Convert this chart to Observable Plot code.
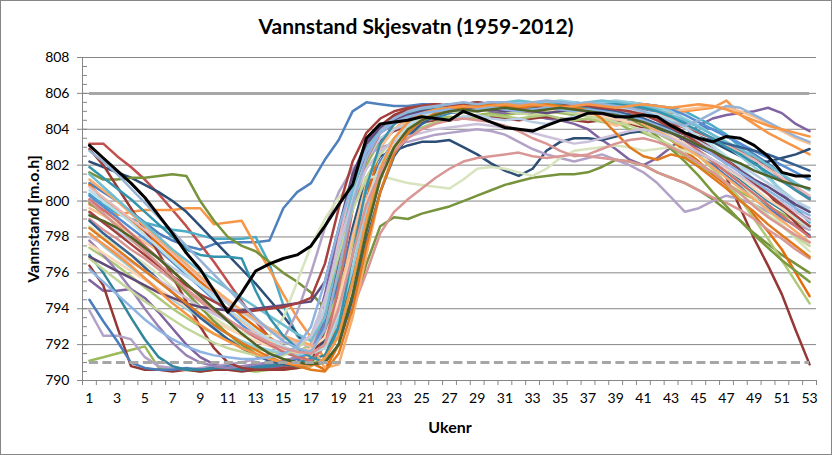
<!DOCTYPE html>
<html>
<head>
<meta charset="utf-8">
<script src="https://cdn.jsdelivr.net/npm/d3@7"></script>
<script src="https://cdn.jsdelivr.net/npm/@observablehq/plot@0.6"></script>
<style>
  html, body { margin: 0; padding: 0; background: #fff; }
  #wrap { position: relative; width: 832px; height: 455px; font-family: Lato, "Open Sans", sans-serif; overflow: hidden; }
  #border { position: absolute; left: 0; top: 0; width: 832px; height: 455px; box-sizing: border-box; border: 1px solid #868686; pointer-events: none; }
  #title { position: absolute; left: 0; top: 13px; width: 832px; text-align: center; font-weight: bold; font-size: 21px; color: #000; }
  #ytitle { position: absolute; left: 32px; top: 219px; transform: translate(-50%, -50%) rotate(-90deg); white-space: nowrap; font-weight: bold; font-size: 16px; color: #000; }
  #xtitle { position: absolute; left: 450px; top: 417px; transform: translateX(-50%); font-weight: bold; font-size: 16px; color: #000; }
  #chart { position: absolute; left: 0; top: 45px; }
</style>
</head>
<body>
<div id="wrap">
  <div id="title">Vannstand Skjesvatn (1959-2012)</div>
  <div id="chart"></div>
  <div id="ytitle">Vannstand [m.o.h]</div>
  <div id="xtitle">Ukenr</div>
  <div id="border"></div>
</div>
<script>
// ---- Categories / ticks ----
const weeks = d3.range(1, 54);                 // Ukenr 1..53
const weekLabels = weeks.filter(w => w % 2 === 1);
const yMajor = [790, 792, 794, 796, 798, 800, 802, 804, 806, 808];
const yMinor = d3.range(790, 808.01, 0.5);
const fullLevel = 806;   // HRV
const lowLevel = 791;    // LRV

// ---- Series (weekly water level, m.o.h) ----
const s01 = [801.0,800.5,800.0,799.4,798.8,798.2,797.8,797.5,797.3,797.6,
  797.7,797.7,797.7,797.8,799.6,800.5,801.0,802.3,803.4,805.0,
  805.5,805.4,805.3,805.3,805.4,805.4,805.3,805.4,805.3,805.4,
  805.4,805.3,805.3,805.2,805.3,805.2,805.3,805.4,805.3,805.2,
  805.1,805.0,804.7,804.4,804.2,804.0,803.6,803.2,802.6,802.1,
  801.5,800.8,800.2];
const s02 = [803.2,803.2,802.5,801.9,801.2,800.4,799.5,798.6,797.6,796.6,
  795.5,794.4,793.3,792.4,791.8,791.4,791.5,793.0,796.5,800.2,
  802.8,804.0,804.6,805.0,805.2,805.3,805.3,805.2,805.4,805.3,
  805.2,805.3,805.3,805.2,805.3,805.2,805.1,805.0,804.8,804.9,
  804.8,804.6,804.3,804.1,803.8,803.5,803.2,802.8,802.4,801.9,
  801.2,800.6,800.1];
const s03 = [791.1,791.3,791.5,791.7,791.9,790.7,790.6,790.6,790.5,790.6,
  790.6,790.6,790.5,790.6,790.6,790.7,790.8,792.5,796.0,799.5,
  802.0,803.4,804.0,804.3,804.5,804.6,804.7,804.6,804.8,804.9,
  804.8,804.9,804.9,805.0,804.9,804.8,804.9,804.7,804.4,804.0,
  803.8,803.5,803.0,802.5,802.0,801.5,801.0,800.5,800.1,799.7,
  799.3,798.9,798.5];
const s04 = [795.6,795.0,795.0,795.1,794.6,793.8,792.9,792.0,791.3,790.9,
  790.7,790.6,790.6,790.7,790.8,791.0,792.0,794.8,798.2,801.4,
  803.3,804.2,804.7,804.9,805.0,805.1,805.0,805.2,805.1,805.0,
  804.9,805.0,804.8,804.6,804.5,804.3,804.0,803.4,802.9,802.3,
  802.0,802.4,803.0,803.6,804.2,804.6,804.8,804.9,805.0,805.2,
  804.9,804.3,803.9];
const s05 = [800.4,799.8,799.3,799.0,798.8,798.6,798.4,798.3,798.1,797.9,
  797.9,797.9,798.0,796.5,794.2,792.5,791.6,791.8,794.0,797.0,
  799.8,801.8,803.0,803.8,804.3,804.6,804.9,805.0,805.2,805.1,
  805.2,805.3,805.2,805.3,805.4,805.3,805.4,805.5,805.4,805.3,
  805.4,805.3,805.2,805.0,804.6,804.2,803.7,803.0,802.2,801.4,
  800.5,799.6,798.8];
const s06 = [799.8,799.5,799.2,799.4,799.5,799.5,799.5,799.6,799.6,798.7,
  798.8,798.9,797.5,796.2,794.8,793.5,792.4,791.2,793.5,797.5,
  801.0,803.0,804.0,804.6,804.9,805.1,805.0,805.2,805.3,805.2,
  805.3,805.2,805.3,805.2,805.4,805.3,805.2,805.3,805.2,805.1,
  805.2,805.0,804.9,805.0,805.1,805.2,805.6,804.8,804.3,803.8,
  803.4,803.0,802.6];
const s07 = [802.2,801.9,801.6,801.3,800.9,800.5,800.0,799.4,798.6,797.8,
  797.0,796.2,795.4,794.5,793.6,792.6,791.6,792.2,795.0,798.5,
  801.3,802.5,802.8,803.1,803.3,803.3,803.4,803.0,802.6,802.1,
  801.7,801.4,801.8,802.8,803.3,803.5,803.5,803.4,803.6,803.8,
  803.9,804.0,803.9,803.8,803.6,803.3,802.9,802.5,802.1,802.2,
  802.4,802.6,802.9];
const s08 = [796.4,795.3,793.0,790.8,790.6,790.6,790.5,790.6,790.5,790.6,
  790.6,790.5,790.6,790.6,790.6,790.7,790.9,793.5,797.5,800.8,
  802.5,803.4,803.9,804.2,804.4,804.5,804.5,804.6,804.6,804.7,
  804.6,804.5,804.6,804.7,804.6,804.5,804.4,804.5,804.4,804.3,
  804.1,803.8,803.4,803.0,802.6,802.1,801.3,799.6,797.9,796.4,
  794.8,792.8,790.9];
const s09 = [801.6,801.2,801.2,801.3,801.3,801.4,801.5,801.4,800.0,798.9,
  798.0,797.5,797.2,796.6,796.0,795.5,794.9,794.0,793.0,793.8,
  796.5,798.6,799.1,799.0,799.3,799.5,799.7,800.0,800.3,800.6,
  800.9,801.1,801.3,801.4,801.5,801.5,801.6,801.9,802.3,802.2,
  802.0,801.6,801.3,801.0,800.6,800.1,799.5,798.9,798.2,797.6,
  797.0,796.5,796.0];
const s10 = [793.9,792.5,792.5,792.3,791.3,790.8,790.7,790.6,790.7,790.8,
  790.9,791.0,791.2,791.5,792.3,793.8,796.0,798.5,800.5,801.8,
  802.5,803.0,803.2,803.3,803.5,803.7,803.8,803.9,804.0,803.9,
  803.7,803.3,802.9,802.6,802.4,802.2,802.4,802.6,802.3,802.0,
  801.6,801.0,800.2,799.4,799.6,800.0,800.3,800.1,799.8,799.4,
  799.0,798.7,798.4];
const s11 = [794.5,793.3,792.2,791.0,790.7,790.6,790.6,790.7,790.6,790.7,
  790.8,790.7,790.8,790.9,791.0,791.2,791.5,792.8,795.5,798.2,
  800.6,802.2,803.3,804.0,804.4,804.7,804.9,805.0,805.0,805.1,
  805.0,805.1,805.2,805.1,805.0,804.9,805.0,804.8,804.6,804.5,
  804.3,804.0,803.6,803.1,802.6,802.0,801.4,800.8,800.2,799.6,
  799.1,798.6,798.1];
const s12 = [800.9,800.1,799.5,798.9,798.3,797.6,796.9,796.2,795.5,794.9,
  794.3,793.6,793.0,792.4,791.9,791.5,791.0,790.6,792.0,796.0,
  800.0,803.0,804.3,804.9,805.2,805.3,805.4,805.3,805.4,805.3,
  805.4,805.4,805.3,805.4,805.3,805.4,805.3,805.4,805.2,805.0,
  804.6,804.0,803.4,802.8,802.2,801.5,800.9,800.1,799.2,798.3,
  797.3,796.0,794.7];
const s13 = [798.6,798.0,797.5,797.0,796.5,795.9,795.2,794.6,794.0,793.5,
  793.0,792.7,792.4,792.5,793.5,795.5,797.5,799.0,800.2,800.9,
  801.3,801.4,801.2,801.0,800.9,800.8,800.7,801.2,801.8,801.9,
  801.8,801.6,801.4,801.8,802.4,802.8,802.9,803.0,803.1,803.0,
  802.8,802.9,803.0,802.8,802.5,802.2,801.6,801.0,800.2,799.5,
  798.7,797.9,797.2];
const s14 = [797.4,796.9,796.4,795.8,795.2,794.6,794.0,793.5,793.0,792.6,
  792.3,792.0,791.8,791.6,791.5,791.6,792.0,793.0,795.0,797.5,
  799.8,801.5,802.8,803.6,804.1,804.4,804.6,804.7,804.6,804.8,
  804.7,804.6,804.7,804.8,804.6,804.5,804.6,804.4,804.3,804.4,
  804.2,803.8,803.4,803.0,802.5,801.8,801.0,800.1,799.0,797.9,
  796.7,795.5,794.3];
const s15 = [799.0,798.4,797.9,797.3,796.8,796.2,795.6,795.0,794.4,793.8,
  793.3,792.9,792.5,792.1,791.8,791.6,791.5,791.8,792.8,794.0,
  796.0,798.2,799.4,800.1,800.7,801.3,801.8,802.2,802.4,802.5,
  802.6,802.7,802.5,802.4,802.5,802.6,802.5,802.4,802.3,802.2,
  802.0,801.6,801.3,801.0,800.6,800.2,799.9,799.5,799.0,798.4,
  797.9,797.3,796.8];
const s16 = [799.6,799.2,798.7,798.2,797.7,797.2,796.6,796.0,795.3,794.6,
  793.9,793.3,792.7,792.2,791.8,791.5,791.3,792.0,794.5,798.0,
  801.0,803.0,804.0,804.5,804.8,805.0,805.2,805.1,805.2,805.3,
  805.2,805.1,805.0,805.2,805.1,805.0,804.8,804.5,804.2,804.4,
  804.7,804.9,805.0,805.1,805.2,805.3,805.2,805.0,804.7,804.3,
  803.9,803.5,803.2];
const s17 = [797.0,796.0,794.8,793.5,792.3,791.3,790.8,790.6,790.6,790.7,
  790.7,790.6,790.7,790.8,790.9,791.0,791.2,791.4,793.0,796.0,
  799.2,801.6,803.0,803.9,804.5,804.8,805.1,805.1,805.3,805.2,
  805.3,805.4,805.3,805.4,805.3,805.2,805.3,805.2,805.0,804.7,
  804.4,804.0,803.5,803.2,802.8,802.3,801.8,801.2,800.6,800.0,
  799.5,799.0,798.6];
const s18 = [797.8,797.0,796.1,795.1,794.0,793.0,792.1,791.4,791.0,790.8,
  790.7,790.8,790.9,791.0,791.1,791.3,791.8,793.6,797.0,800.4,
  802.6,803.8,804.3,804.6,804.7,804.9,805.0,804.9,805.0,805.1,
  805.0,804.9,805.0,805.1,805.2,805.1,805.0,804.8,804.9,805.1,
  805.2,805.0,804.6,804.1,803.5,802.9,802.2,801.6,801.0,800.4,
  799.9,799.4,799.0];
const s19 = [800.3,799.7,799.1,798.5,797.9,797.3,796.6,795.9,795.2,794.5,
  793.8,793.1,792.5,792.0,791.6,791.3,791.5,793.2,796.6,800.0,
  802.4,803.9,804.6,805.0,805.2,805.3,805.4,805.3,805.4,805.5,
  805.4,805.5,805.4,805.3,805.4,805.5,805.4,805.3,805.4,805.5,
  805.4,805.3,805.1,804.8,804.4,804.0,803.6,803.2,802.8,802.4,
  802.0,801.6,801.2];
const s20 = [802.9,802.0,800.8,799.6,798.4,797.1,795.8,794.4,793.0,791.8,
  791.0,790.7,790.6,790.6,790.7,790.8,791.0,792.8,796.8,800.5,
  802.9,804.2,804.8,805.1,805.3,805.4,805.3,805.4,805.5,805.4,
  805.3,805.4,805.3,805.2,805.3,805.4,805.3,805.2,805.1,805.2,
  805.0,804.7,804.3,803.8,803.4,802.9,802.4,801.8,801.1,800.4,
  799.6,798.8,798.0];
const s21 = [798.2,797.5,796.9,796.3,795.7,795.1,794.5,794.0,793.5,793.0,
  792.6,792.2,791.9,791.7,791.5,791.4,791.6,791.8,793.4,796.2,
  799.4,801.8,803.3,804.2,804.7,805.0,805.2,805.3,805.2,805.3,
  805.4,805.5,805.4,805.5,805.6,805.5,805.4,805.5,805.6,805.5,
  805.4,805.2,805.0,804.6,804.2,803.7,803.1,802.5,801.9,801.3,
  800.6,800.0,799.4];
const s22 = [800.8,800.2,799.6,799.0,798.4,797.8,797.1,796.4,795.7,795.0,
  794.4,793.8,793.3,792.8,792.4,792.1,791.9,794.0,797.8,801.0,
  802.8,803.9,804.5,804.8,805.0,805.1,805.2,805.1,805.0,805.1,
  805.2,805.1,805.0,804.9,805.0,805.1,804.9,804.7,804.5,804.6,
  804.8,804.9,804.6,804.2,803.9,803.5,803.1,802.7,802.3,801.8,
  801.3,800.8,800.3];
const s23 = [799.3,798.8,798.3,797.8,797.3,796.8,796.3,795.8,795.3,794.8,
  794.3,793.8,793.3,792.9,792.5,792.2,792.4,794.0,797.3,800.3,
  802.3,803.5,804.0,804.3,804.5,804.6,804.5,804.7,804.8,804.6,
  804.5,804.6,804.4,804.3,804.5,804.7,804.9,805.0,805.1,805.0,
  804.8,804.5,804.1,803.7,803.3,802.9,802.4,802.0,801.5,801.0,
  800.5,800.0,799.6];
const s24 = [797.6,797.1,796.6,796.1,795.6,795.1,794.6,794.1,793.7,793.3,
  792.9,792.5,792.2,791.9,791.7,791.6,791.8,792.4,794.5,797.2,
  800.0,802.0,803.2,804.0,804.5,804.8,805.0,805.1,805.0,805.1,
  805.2,805.1,805.0,805.1,805.0,804.9,804.8,804.7,804.6,804.4,
  804.2,803.9,803.6,803.2,802.8,802.3,801.8,801.3,800.7,800.1,
  799.6,799.0,798.5];
const s25 = [799.9,799.3,798.6,797.9,797.2,796.5,795.7,794.9,794.1,793.3,
  792.6,792.0,791.5,791.1,790.9,790.8,790.9,791.2,792.5,795.5,
  798.8,801.5,803.0,804.0,804.6,804.9,805.1,805.2,805.1,805.2,
  805.3,805.2,805.1,805.2,805.3,805.2,805.1,805.0,804.9,804.6,
  804.2,803.6,802.9,802.2,801.4,800.5,799.7,798.9,798.1,797.4,
  796.7,796.1,795.5];
const s26 = [801.2,800.6,800.0,799.3,798.6,797.9,797.2,796.5,795.8,795.1,
  794.5,793.9,793.4,792.9,792.5,792.2,792.0,790.7,790.9,793.5,
  797.0,800.5,802.8,804.0,804.6,805.0,805.3,805.2,805.3,805.4,
  805.3,805.2,805.3,805.4,805.3,805.2,805.3,805.2,805.0,804.7,
  804.3,803.9,803.5,803.0,802.5,801.9,801.3,800.7,800.1,799.5,
  798.9,798.3,797.7];
const s27 = [800.1,799.5,798.9,798.2,797.5,796.8,796.1,795.4,794.7,794.0,
  793.4,792.9,792.4,792.0,791.6,791.3,791.1,791.9,795.2,799.5,
  802.3,803.8,804.5,804.9,805.1,805.2,805.1,805.3,805.2,805.1,
  805.2,805.1,805.2,805.3,805.2,805.1,805.2,805.3,805.2,805.1,
  804.9,804.5,804.0,803.4,802.8,802.2,801.6,801.0,800.4,799.8,
  799.2,798.6,798.0];
const s28 = [801.5,800.8,800.1,799.4,798.7,798.0,797.3,796.7,796.1,795.6,
  795.1,794.6,794.1,793.6,793.1,792.6,792.2,793.5,797.0,800.6,
  802.9,804.1,804.6,804.9,805.1,805.2,805.3,805.4,805.5,805.4,
  805.5,805.6,805.5,805.4,805.5,805.4,805.5,805.6,805.5,805.4,
  805.3,805.1,804.8,804.5,804.1,803.7,803.3,802.9,802.5,802.0,
  801.5,801.0,800.6];
const s29 = [798.9,798.2,797.6,797.0,796.3,795.6,794.9,794.2,793.5,792.9,
  792.3,791.8,791.4,791.1,790.9,790.8,790.9,791.0,792.0,794.5,
  797.8,800.5,802.5,803.6,804.3,804.8,805.1,805.3,805.2,805.3,
  805.4,805.3,805.4,805.3,805.2,805.3,805.2,805.1,805.0,804.8,
  804.6,804.3,804.0,803.7,803.5,803.4,803.2,803.0,802.8,802.6,
  802.3,802.0,801.7];
const s30 = [796.8,796.2,795.6,795.0,794.4,793.9,793.4,792.9,792.5,792.1,
  791.8,791.6,791.4,791.3,791.4,791.8,792.5,794.5,797.0,799.5,
  801.3,802.6,803.5,804.1,804.5,804.8,805.0,804.9,805.0,805.1,
  805.0,804.9,804.8,804.9,805.0,804.9,804.7,804.6,804.4,804.2,
  803.9,803.5,803.1,802.6,802.1,801.6,801.0,800.4,799.8,799.2,
  798.6,798.0,797.5];
const s31 = [798.0,797.6,797.1,796.6,796.1,795.6,795.1,794.6,794.1,793.7,
  793.3,792.9,792.6,792.3,792.1,792.0,792.5,794.5,797.5,800.0,
  801.8,802.8,803.3,803.6,803.8,804.0,804.1,804.2,804.3,804.2,
  804.1,804.0,803.8,803.6,803.4,803.2,803.3,803.5,803.7,803.9,
  804.0,803.8,803.5,803.1,802.7,802.3,801.9,801.4,800.9,800.4,
  799.9,799.4,798.9];
const s32 = [800.6,800.0,799.4,798.8,798.1,797.4,796.7,796.0,795.3,794.6,
  794.0,793.4,792.8,792.3,791.9,791.6,791.5,791.8,793.8,796.8,
  799.8,802.0,803.4,804.2,804.7,805.0,805.2,805.1,805.2,805.3,
  805.2,805.3,805.4,805.3,805.2,805.3,805.4,805.3,805.2,805.1,
  805.0,804.8,804.5,804.1,803.6,803.1,802.5,801.9,801.2,800.5,
  799.8,799.1,798.5];
const s33 = [801.9,801.3,800.7,800.1,799.4,798.7,798.0,797.3,797.0,796.9,
  796.9,796.8,795.0,793.5,792.5,791.8,791.3,791.0,793.0,797.0,
  800.8,803.2,804.3,804.8,805.0,805.1,805.2,805.3,805.2,805.3,
  805.4,805.3,805.2,805.3,805.4,805.3,805.2,805.3,805.4,805.3,
  805.2,805.0,804.7,804.3,803.9,803.5,803.0,802.6,802.1,801.6,
  801.1,800.6,800.1];
const s34 = [796.9,796.5,796.1,795.7,795.3,794.9,794.6,794.3,794.1,794.0,
  793.9,793.9,794.0,794.1,794.2,794.3,794.4,795.5,798.5,801.5,
  803.2,804.1,804.5,804.8,805.0,805.1,805.0,805.1,805.2,805.1,
  805.0,805.1,805.0,804.9,805.0,805.1,805.0,804.9,804.8,804.6,
  804.4,804.1,803.8,803.4,803.0,802.6,802.1,801.7,801.2,800.8,
  800.3,799.8,799.4];
const s35 = [799.4,798.8,798.2,797.6,797.0,796.4,795.8,795.3,794.8,794.4,
  794.0,793.8,793.9,794.0,794.1,794.3,794.6,796.5,799.6,802.2,
  803.8,804.6,805.0,805.2,805.3,805.4,805.3,805.4,805.5,805.4,
  805.3,805.4,805.3,805.2,805.3,805.4,805.3,805.2,805.1,805.0,
  804.8,804.5,804.1,803.7,803.2,802.7,802.2,801.6,801.0,800.4,
  799.8,799.2,798.6];
const s36 = [798.5,797.9,797.3,796.7,796.1,795.5,794.9,794.3,793.7,793.1,
  792.6,792.1,791.7,791.3,791.0,790.8,790.6,790.5,791.5,794.0,
  797.5,800.5,802.6,803.8,804.5,804.9,805.2,805.2,805.3,805.4,
  805.3,805.2,805.3,805.4,805.3,805.2,805.1,804.6,803.8,803.0,
  802.5,802.3,802.6,802.4,801.9,801.3,800.7,800.0,799.4,798.7,
  798.1,797.5,796.9];
const s37 = [802.8,802.2,801.5,800.7,799.9,799.1,798.3,797.5,796.7,795.9,
  795.1,794.3,793.5,792.8,792.2,791.8,791.6,792.8,796.2,799.8,
  802.4,803.9,804.6,805.0,805.2,805.3,805.4,805.5,805.4,805.5,
  805.5,805.4,805.5,805.6,805.5,805.4,805.5,805.4,805.3,805.2,
  805.0,804.7,804.4,804.2,804.5,804.9,805.3,805.2,804.8,804.4,
  804.0,803.6,803.3];
const s38 = [798.2,797.6,797.0,796.4,795.7,795.0,794.3,793.7,793.1,792.6,
  792.2,791.8,791.5,791.2,791.0,790.9,790.8,791.2,792.5,795.5,
  799.0,801.8,803.5,804.4,804.9,805.1,805.2,805.3,805.2,805.3,
  805.4,805.3,805.4,805.3,805.2,805.3,805.4,805.3,805.2,805.3,
  805.4,805.3,805.2,805.3,805.4,805.3,805.1,804.8,804.5,804.2,
  804.0,803.8,803.6];
const s39 = [796.2,795.5,794.8,794.1,793.4,792.8,792.3,791.9,791.6,791.4,
  791.3,791.2,791.2,791.3,791.5,791.9,793.0,795.5,798.5,801.0,
  802.8,803.8,804.4,804.7,804.9,805.0,805.1,805.0,805.1,805.2,
  805.1,805.0,805.1,805.2,805.1,805.0,805.1,805.0,804.9,804.7,
  804.5,804.2,803.9,803.5,803.1,802.6,802.1,801.6,801.1,800.6,
  800.1,799.6,799.2];
const s40 = [800.0,799.3,798.6,797.9,797.2,796.5,795.8,795.1,794.5,793.9,
  793.4,792.9,792.5,792.1,791.8,791.6,791.5,792.0,794.0,797.0,
  799.8,801.6,802.8,803.5,804.0,804.3,804.5,804.6,804.5,804.4,
  804.2,803.9,803.5,803.2,802.8,802.5,802.6,802.9,803.2,803.4,
  803.5,803.3,803.0,802.6,802.1,801.6,801.0,800.4,799.7,799.1,
  798.6,798.1,797.7];
const s41 = [799.2,798.9,798.5,798.0,797.4,796.8,796.1,795.4,794.7,794.0,
  793.3,792.6,792.0,791.5,791.2,791.0,790.9,791.0,792.0,794.8,
  798.3,801.2,803.0,804.0,804.5,804.8,805.0,805.1,805.0,805.1,
  805.2,805.1,805.0,805.1,805.2,805.1,805.0,804.9,804.8,804.6,
  804.4,804.1,803.8,803.5,803.1,802.8,802.4,802.1,801.7,801.4,
  801.1,800.9,800.7];
const s2012 = [803.1,802.4,801.7,801.0,800.2,799.2,798.2,797.1,796.2,795.0,
  793.8,794.9,796.1,796.5,796.8,797.0,797.5,798.6,799.8,800.9,
  803.5,804.3,804.4,804.5,804.7,804.6,804.5,805.0,804.7,804.4,
  804.1,804.0,803.9,804.2,804.5,804.6,804.9,804.9,804.7,804.7,
  804.8,804.7,804.2,803.8,803.5,803.3,803.6,803.5,803.1,802.5,
  801.6,801.4,801.4];

const seriesValues = [s01,s02,s03,s04,s05,s06,s07,s08,s09,s10,s11,s12,s13,s14,s15,s16,s17,s18,s19,
  s20,s21,s22,s23,s24,s25,s26,s27,s28,s29,s30,s31,s32,s33,s34,s35,s36,s37,s38,s39,s40,s41];
const seriesNames = seriesValues.map((_, i) => "serie" + String(i + 1).padStart(2, "0"));
const seriesColors = ["#4F81BD","#C0504D","#9BBB59","#8064A2","#4BACC6","#F79646","#2C4D75","#953735",
  "#77933C","#B3A2C7","#4A7EBB","#E46C0A","#D7E4BD","#AFC97A","#D99694","#FAC090","#31859C","#9983B5",
  "#558ED5","#9A3B38","#93CDDD","#E6B9B8","#B9CDE5","#FCD5B5","#7B9A3D","#F9AB6B","#CD7371","#6FBDD1",
  "#376092","#C3D69B","#CCC1DA","#B7DEE8","#3594AD","#604A7B","#A5403D","#E07A1F","#95B3D7",
  "#F79646","#8EB4E3","#DA9694","#4F6228"];

const rows = seriesValues.flatMap((vals, i) =>
  vals.map((v, j) => ({serie: seriesNames[i], week: weeks[j], level: v})));
const blackRows = s2012.map((v, j) => ({week: weeks[j], level: v}));

const xDomain = [weeks[0] - 0.5, weeks[weeks.length - 1] + 0.5];
const yDomain = [yMajor[0], yMajor[yMajor.length - 1]];
const grey = "#868686";

const chart = Plot.plot({
  width: 832,
  height: 410,
  marginTop: 12,
  marginBottom: 75,
  marginLeft: 82,
  marginRight: 16,
  style: {fontFamily: "Lato, 'Open Sans', sans-serif", fontSize: "14px", color: "#000", background: "transparent", overflow: "visible"},
  x: {domain: xDomain, axis: null},
  y: {domain: yDomain, axis: null},
  color: {domain: seriesNames, range: seriesColors},
  marks: [
    Plot.ruleY(yMajor, {stroke: grey, strokeWidth: 1}),
    Plot.ruleX([xDomain[0]], {y1: yDomain[0], y2: yDomain[1], stroke: grey, strokeWidth: 1}),
    Plot.axisY({ticks: yMinor, tickSize: -5, text: null, stroke: grey, label: null}),
    Plot.axisY({ticks: yMajor, tickSize: 5, tickPadding: 8, stroke: grey, fill: "#000", fontSize: 14, label: null, tickFormat: d => String(d)}),
    Plot.axisX({ticks: d3.range(xDomain[0], xDomain[1] + 0.01, 1), tickSize: 5, text: null, stroke: grey, label: null}),
    Plot.axisX({ticks: weekLabels, tickSize: 0, tickPadding: 13, fill: "#000", fontSize: 14, label: null, tickFormat: d => String(d)}),
    Plot.line(rows, {x: "week", y: "level", z: "serie", stroke: "serie", strokeWidth: 2.5, curve: "linear"}),
    Plot.ruleY([fullLevel], {x1: weeks[0], x2: weeks[weeks.length - 1], stroke: "#A6A6A6", strokeWidth: 3}),
    Plot.ruleY([lowLevel], {x1: weeks[0], x2: weeks[weeks.length - 1], stroke: "#A6A6A6", strokeWidth: 3, strokeDasharray: "9,4.5"}),
    Plot.line(blackRows, {x: "week", y: "level", stroke: "#000", strokeWidth: 3})
  ]
});
document.getElementById("chart").appendChild(chart);
</script>
</body>
</html>
